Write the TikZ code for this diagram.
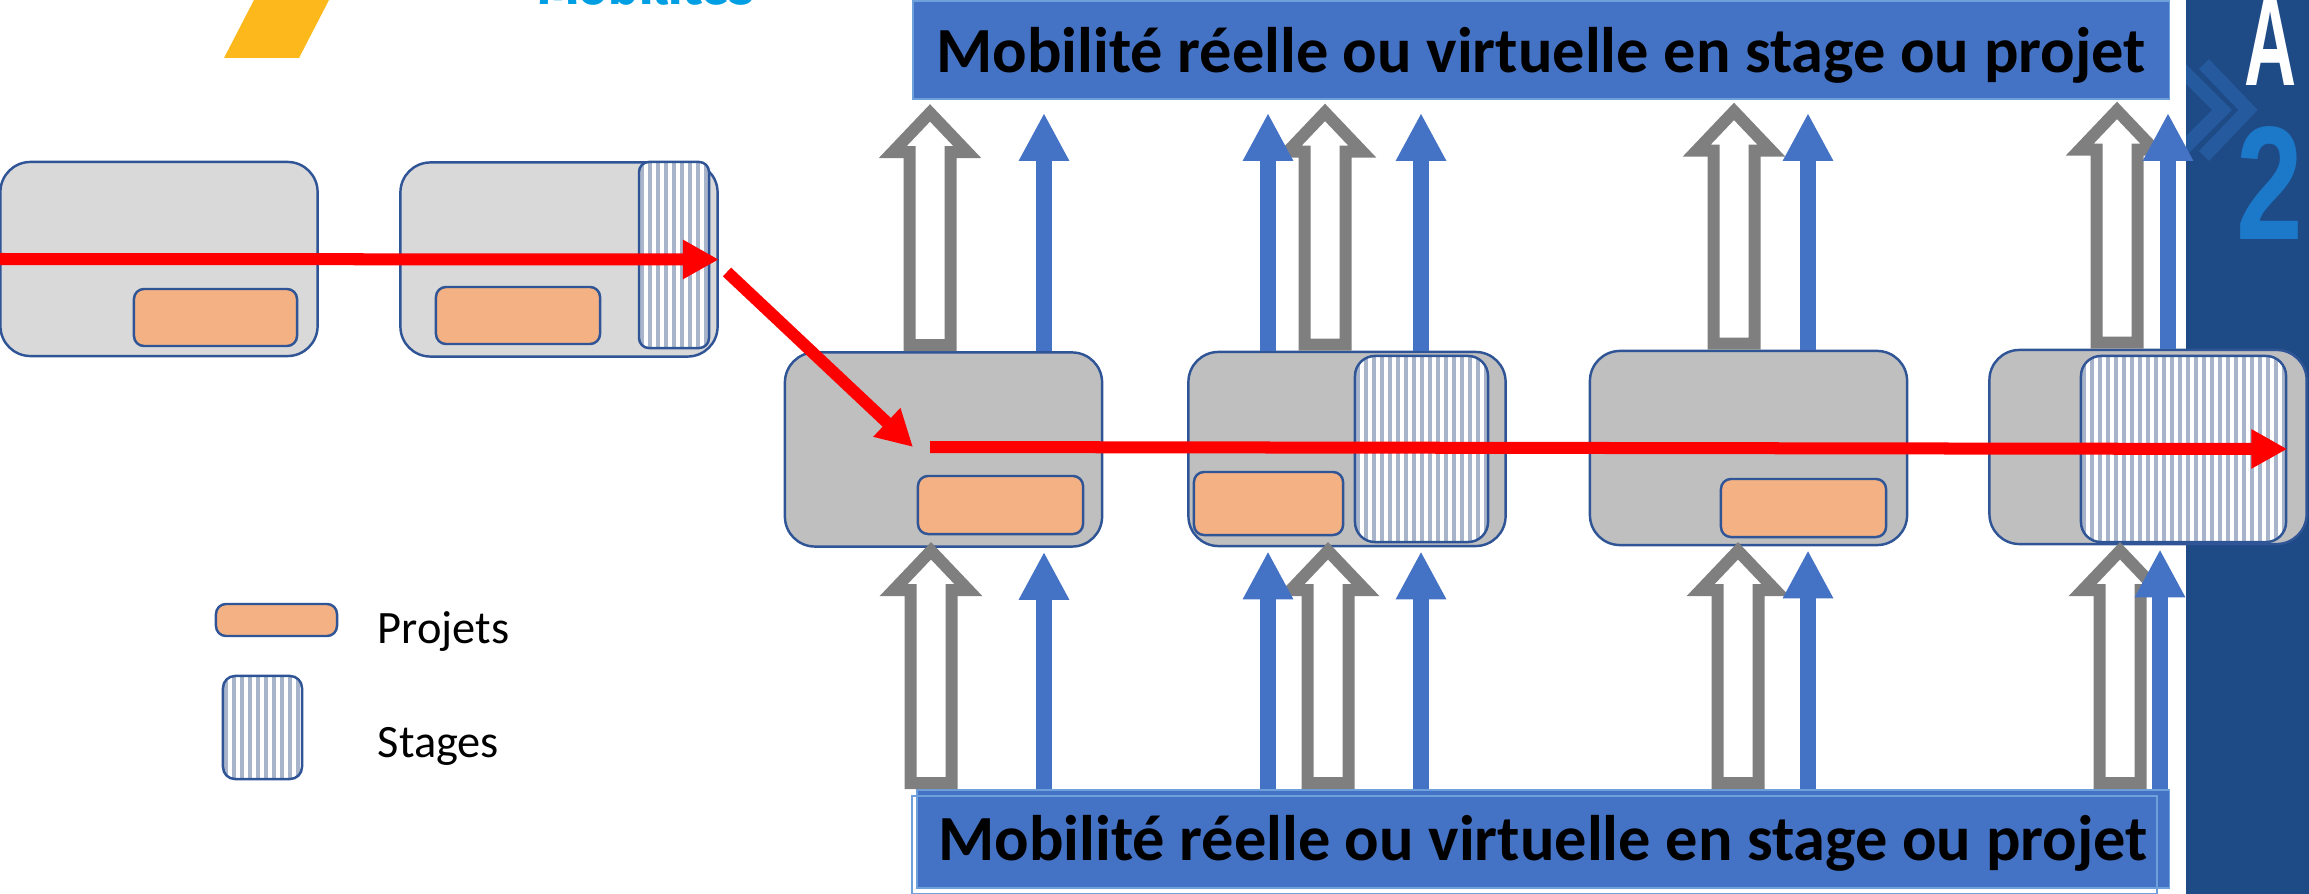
\documentclass[tikz,border=0pt]{standalone}
\usepackage{graphicx}
\usepackage{fontspec}
\setmainfont{Carlito}
\newfontfamily\logofont{Liberation Sans}
\newfontfamily\brandfont{Fira Sans}
\usetikzlibrary{arrows.meta,calc}

\definecolor{boxedge}{RGB}{47,85,151}
\definecolor{lightbox}{RGB}{217,217,217}
\definecolor{midbox}{RGB}{191,191,191}
\definecolor{projorange}{RGB}{244,177,131}
\definecolor{stripeblue}{RGB}{168,180,202}
\definecolor{titleblue}{RGB}{68,114,196}
\definecolor{titleedge}{RGB}{110,160,220}
\definecolor{arrgray}{RGB}{127,127,127}
\definecolor{bandblue}{RGB}{30,74,134}
\definecolor{chevblue}{RGB}{38,90,158}
\definecolor{logotwo}{RGB}{28,120,200}
\definecolor{logoyellow}{RGB}{253,184,28}
\definecolor{logocyan}{RGB}{0,159,227}

\tikzset{
  yearbox/.style={draw=boxedge, line width=0.7pt, rounded corners=0.3cm,
    minimum width=3.17cm, minimum height=1.94cm, inner sep=0pt},
  projbox/.style={draw=boxedge, line width=0.7pt, fill=projorange,
    rounded corners=0.1cm, inner sep=0pt},
  stagebox/.style={draw=boxedge, line width=0.7pt, fill=white,
    rounded corners=0.2cm, inner sep=0pt,
    path picture={
      \foreach \k in {3,11,...,299}
        \draw[stripeblue, line width=0.04cm]
          ($(path picture bounding box.north west)+(\k,-5)$) --
          ($(path picture bounding box.south west)+(\k,5)$);
    }},
  titlebox/.style={fill=titleblue, draw=titleedge, line width=0.5pt, inner sep=0pt,
    font=\fontsize{18.3}{22}\selectfont\bfseries},
  titleline/.style={draw=titleedge, line width=0.5pt},
  legendtext/.style={font=\fontsize{13.2}{16}\selectfont, inner sep=0pt},
  hollow/.style={draw=arrgray, fill=white, line width=0.12cm, line join=miter},
  bluearr/.style={draw=titleblue, line width=0.16cm,
    -{Triangle[length=0.48cm, width=0.47cm]}},
  redarr/.style={draw=red, line width=0.12cm,
    -{Triangle[length=0.36cm, width=0.37cm]}},
  chevron/.style={draw=chevblue, line width=0.14cm, line join=miter},
  hollowup/.pic={
    \draw[hollow] (-20.5,-6) -- (-20.5,-199) -- (-37.4,-199) -- (0,-238.3)
      -- (37.4,-199) -- (20.5,-199) -- (20.5,-6) -- cycle;
  }
}

\begin{document}
\begin{tikzpicture}[x=0.01cm, y=-0.01cm]
  \useasboundingbox (0,0) rectangle (2309,894);
  \clip (0,0) rectangle (2309,894);

  % Logo band on the right
  \fill[bandblue] (2186,0) rectangle (2309,894);
  \begin{scope}
    \clip (2186,0) rectangle (2309,894);
    \draw[chevron] (2176,64) -- (2222,110) -- (2176,156);
    \draw[chevron] (2204,64) -- (2248,110) -- (2204,156);
  \end{scope}
  \node[anchor=base, text=white] (logoA) at (2271,86)
    {\logofont\bfseries\fontsize{36}{36}\selectfont\scalebox{0.57}[1]{A}};
  \node[anchor=base, text=logotwo] (logoTwo) at (2270,240)
    {\logofont\bfseries\fontsize{46}{46}\selectfont\scalebox{0.74}[1]{2}};

  % Logo top left
  \fill[logoyellow] (224,58) -- (299,58) -- (329,0) -- (254,0) -- cycle;
  \node[anchor=base west, text=logocyan, inner sep=0pt,
    font=\brandfont\bfseries\fontsize{14.5}{14.5}\selectfont] (brand) at (538,5) {Mobilités};

  % Mobility boxes
  \node[titlebox, minimum width=12.56cm, minimum height=0.98cm,
    text height=0.6cm, text depth=0.15cm] (titleTop) at (1541,50)
    {Mobilité réelle ou virtuelle en stage ou projet};
  \node[titlebox, minimum width=12.52cm, minimum height=0.98cm,
    text height=0.57cm, text depth=0.15cm] (titleBot) at (1543,839)
    {Mobilité réelle ou virtuelle en stage ou projet};
  \draw[titleline] ($(titleBot.south west)+(-4,5)$) rectangle ($(titleBot.north east)+(-13,7)$);

  % Years, first row
  \node[yearbox, fill=lightbox] (box1) at (159,259) {};
  \node[yearbox, fill=lightbox] (box2) at (559,259.5) {};
  \node[projbox, minimum width=1.63cm, minimum height=0.57cm] (pr1) at (215.5,317.5) {};
  \node[projbox, minimum width=1.64cm, minimum height=0.57cm] (pr2) at (518,315.5) {};
  \node[stagebox, minimum width=0.70cm, minimum height=1.86cm, rounded corners=0.1cm] (st2) at (674,255) {};

  % Years, second row
  \node[yearbox, fill=midbox] (boxA) at (943.5,449.5) {};
  \node[yearbox, fill=midbox] (boxB) at (1347,449) {};
  \node[yearbox, fill=midbox] (boxC) at (1748.5,448) {};
  \node[yearbox, fill=midbox] (boxD) at (2148,447) {};
  \node[projbox, minimum width=1.65cm, minimum height=0.58cm] (prA) at (1000.5,505) {};
  \node[projbox, minimum width=1.49cm, minimum height=0.63cm] (prB) at (1268.5,503.5) {};
  \node[stagebox, minimum width=1.33cm, minimum height=1.86cm] (stB) at (1421.5,449) {};
  \node[projbox, minimum width=1.65cm, minimum height=0.58cm] (prC) at (1803.5,508) {};
  \node[stagebox, minimum width=2.05cm, minimum height=1.86cm] (stD) at (2183.5,449) {};

  % Outgoing mobility
  \pic at (930,0 |- boxA.north) {hollowup};
  \pic at (1325,0 |- boxB.north) {hollowup};
  \pic at (1734,0 |- boxC.north) {hollowup};
  \pic at (2117,0 |- boxD.north) {hollowup};
  \draw[bluearr, shorten >=0.13cm] (1044,0 |- boxA.north) -- (1044,0 |- titleTop.south);
  \draw[bluearr, shorten >=0.13cm] (1268,0 |- boxB.north) -- (1268,0 |- titleTop.south);
  \draw[bluearr, shorten >=0.13cm] (1421,0 |- boxB.north) -- (1421,0 |- titleTop.south);
  \draw[bluearr, shorten >=0.13cm] (1808,0 |- boxC.north) -- (1808,0 |- titleTop.south);
  \draw[bluearr, shorten >=0.13cm] (2168,0 |- boxD.north) -- (2168,0 |- titleTop.south);

  % Incoming mobility
  \pic at (931,0 |- titleBot.north) {hollowup};
  \pic at (1328,0 |- titleBot.north) {hollowup};
  \pic at (1738,0 |- titleBot.north) {hollowup};
  \pic at (2120,0 |- titleBot.north) {hollowup};
  \draw[bluearr, shorten >=0.04cm] (1044,0 |- titleBot.north) -- (1044,0 |- boxA.south);
  \draw[bluearr, shorten >=0.04cm] (1268,0 |- titleBot.north) -- (1268,0 |- boxB.south);
  \draw[bluearr, shorten >=0.04cm] (1421,0 |- titleBot.north) -- (1421,0 |- boxB.south);
  \draw[bluearr, shorten >=0.04cm] (1808,0 |- titleBot.north) -- (1808,0 |- boxC.south);
  \draw[bluearr, shorten >=0.04cm] (2160,0 |- titleBot.north) -- (2160,0 |- boxD.south);

  % Path of the student
  \coordinate (drop) at (727,272);
  \coordinate (land) at (913,447);
  \coordinate (go) at (930,447);
  \draw[redarr] (box1.west) -- (box2.east);
  \draw[redarr] (drop) -- (land);
  \draw[redarr] (go) -- (stD.east);

  % Legend
  \node[projbox, minimum width=1.21cm, minimum height=0.32cm] (lgPr) at (276.5,620) {};
  \node[stagebox, minimum width=0.79cm, minimum height=1.03cm, rounded corners=0.12cm] (lgSt) at (262.5,727.5) {};
  \node[legendtext, anchor=base west] (lgPrText) at (377,643) {Projets};
  \node[legendtext, anchor=base west] (lgStText) at (377,757) {Stages};

\end{tikzpicture}
\end{document}
